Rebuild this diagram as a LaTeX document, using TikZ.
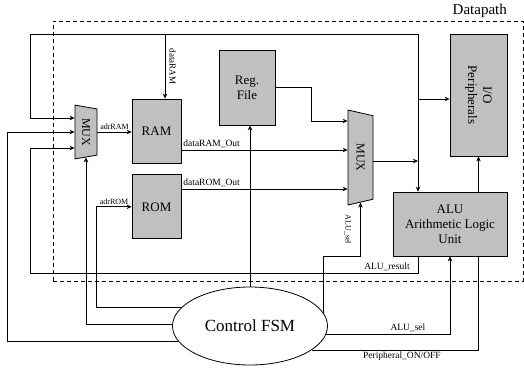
\documentclass[tikz,border=0pt]{standalone}
\usepackage{fontspec}
\setmainfont{Liberation Serif}
\usetikzlibrary{arrows.meta, positioning, shapes.geometric}
\definecolor{blockgray}{RGB}{192,192,192}
\tikzstyle{datapath}=[x=1pt, y=-1pt, >={Stealth[length=5pt,width=4.5pt]}, line width=1pt]
\tikzstyle{frame}=[draw, dash pattern=on 4pt off 3pt, line width=0.7pt, minimum width=470pt, minimum height=260pt, inner sep=0pt]
\tikzstyle{block}=[draw, fill=blockgray, line width=0.8pt, inner sep=0pt, align=center, font=\fontsize{13}{15}\selectfont]
\tikzstyle{mux}=[draw, fill=blockgray, line width=0.8pt, trapezium, trapezium stretches, rotate=-90, inner sep=0pt, font=\fontsize{12}{14}\selectfont]
\tikzstyle{controller}=[draw, ellipse, line width=0.8pt, minimum width=155pt, minimum height=78pt, inner sep=0pt, font=\fontsize{17}{20}\selectfont]
\tikzstyle{signal}=[font=\fontsize{9.5}{11}\selectfont, inner sep=1.5pt]
\tikzstyle{small signal}=[font=\fontsize{8}{9}\selectfont, inner sep=1.5pt]
\tikzstyle{thin wire}=[line width=0.6pt]

\begin{document}
\begin{tikzpicture}[datapath]
  \useasboundingbox (0,0) rectangle (524,367);
  \node[frame] (dp) at (288,151) {};
  \node[font=\fontsize{15}{17}\selectfont, anchor=south east, inner sep=2pt] (dplabel) at ([xshift=-14pt]dp.north east) {Datapath};

  \node[mux, minimum width=54pt, minimum height=22pt, trapezium angle=73.5] (muxL) at (86,132) {MUX};
  \node[block, minimum width=49pt, minimum height=64pt] (ram) at (156.5,131) {RAM};
  \node[block, minimum width=49pt, minimum height=64pt] (rom) [below=11pt of ram] {ROM};
  \node[block, minimum width=56pt, minimum height=75pt] (reg) at (247,87.5) {Reg.\\File};
  \node[mux, minimum width=95pt, minimum height=25pt, trapezium angle=76.5] (muxR) at (360.5,157.5) {MUX};
  \node[block, rotate=-90, minimum width=122pt, minimum height=57pt] (io) at (478.5,95) {I/O\\Peripherals};
  \node[block, minimum width=114pt, minimum height=64pt] (alu) at (450,224) {ALU\\Arithmetic Logic\\Unit};
  \node[controller] (fsm) at (250,326) {Control FSM};

  \coordinate (busTop) at (418,34);
  \coordinate (busLeft) at (30,34);
  \coordinate (busJoin) at (418,161);
  \coordinate (resultLeft) at (30,273);
  \coordinate (ramIn) at ([xshift=8.5pt]ram.north);

  % result bus
  \draw[->] (muxR.north |- busJoin) -- (busJoin);
  \draw[->] (busTop) -- (busTop |- alu.north);
  \draw[->] (busTop) -- (busLeft) |- (muxL.south |- 0,118);
  \draw[->] (busTop |- 0,99) -- (io.south |- 0,99);
  \draw[->] (ramIn |- busTop) -- node[small signal, font=\fontsize{9}{10}\selectfont, rotate=-90, anchor=south, inner ysep=4pt] {dataRAM} (ramIn);
  \draw[->] (alu.south -| busJoin) |- node[signal, above, pos=0.54] {ALU\_result} (resultLeft) |- (muxL.south |- 0,148);

  % memories
  \draw[->] (muxL.north) -- node[small signal, above] {adrRAM} (ram.west |- muxL.north);
  \draw[->] (ram.east |- 0,150) -- node[signal, above right, pos=0] {dataRAM\_Out} (muxR.south |- 0,150);
  \draw[->] (rom.east |- 0,189) -- node[signal, above right, pos=0] {dataROM\_Out} (muxR.south |- 0,189);
  \draw[->] (reg.east) -- ++(36,0) |- (muxR.south |- 0,121);

  % control
  \draw[->] (fsm.north) -- (fsm.north |- reg.south);
  \draw[->] (fsm.165) -| ([xshift=-35pt]rom.west) -- node[small signal, above] {adrROM} (rom.west);
  \draw[->, thin wire] (fsm.179) -| (muxL.east);
  \draw[->] (fsm.192) -| ([xshift=-67pt]muxL.south) -- (muxL.south);
  \draw[->, thin wire] (fsm.10) |- ([yshift=-54pt]muxR.east) -- node[small signal, rotate=-90, anchor=north, inner ysep=9pt] {ALU\_sel} (muxR.east);
  \draw[->, thin wire] (fsm.-6) -| node[signal, above, pos=0.33] {ALU\_sel} (alu.south);
  \draw[thin wire] (fsm.-21) -| node[signal, below, pos=0.27] {Peripheral\_ON/OFF} (alu.south -| io.east);
  \draw[->, thin wire] (alu.north -| io.east) -- (io.east);
\end{tikzpicture}
\end{document}
